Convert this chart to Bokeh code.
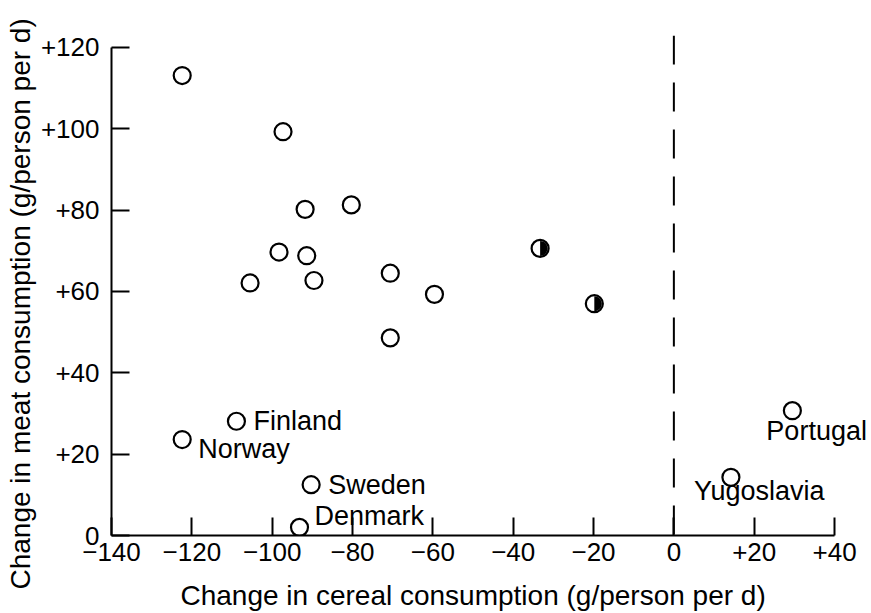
import math
from bokeh.plotting import figure
from bokeh.models import Range1d, FixedTicker, Span, ColumnDataSource, LabelSet, Title
from bokeh.embed import file_html
from bokeh.resources import INLINE
from bokeh.core.properties import value

# ---- data ----
# unlabelled countries (open circles)
cereal_change = [-122.4, -97.3, -91.8, -80.3, -98.3, -91.4, -105.5, -89.6, -70.6, -59.6, -70.6]
meat_change = [113.1, 99.3, 80.2, 81.3, 69.7, 68.8, 62.1, 62.7, 64.5, 59.3, 48.6]

# half-filled circles
half_cereal_change = [-33.3, -19.8]
half_meat_change = [70.6, 57.0]

# labelled countries
named_countries = ["Finland", "Norway", "Sweden", "Denmark", "Portugal", "Yugoslavia"]
named_cereal_change = [-108.9, -122.4, -90.3, -93.2, 29.5, 14.2]
named_meat_change = [28.1, 23.6, 12.5, 2.0, 30.7, 14.3]

x_ticks = [-140, -120, -100, -80, -60, -40, -20, 0, 20, 40]
x_tick_labels = ["\u2212140", "\u2212120", "\u2212100", "\u221280", "\u221260",
                 "\u221240", "\u221220", "0", "+20", "+40"]
y_ticks = [0, 20, 40, 60, 80, 100, 120]
y_tick_labels = ["0", "+20", "+40", "+60", "+80", "+100", "+120"]

x_title = "Change in cereal consumption (g/person per d)"
y_title = "Change in meat consumption (g/person per d)"

# label placement (screen px offsets, style only; dy positive = up)
label_dx = [17, 16, 17, 15, -26, -37]
label_dy = [0, -9, 0, 11, -20, -14]

FONT = "Liberation Sans"

p = figure(width=871, height=613,
           x_range=Range1d(-140, 49.2), y_range=Range1d(0, 122.95),
           output_backend="svg", toolbar_location=None,
           min_border_left=110, min_border_right=0,
           min_border_top=35, min_border_bottom=78)
p.outline_line_color = None
p.grid.visible = False
p.background_fill_color = "white"
p.border_fill_color = "white"

p.xaxis.ticker = FixedTicker(ticks=x_ticks)
p.yaxis.ticker = FixedTicker(ticks=y_ticks)
p.xaxis.major_label_overrides = dict(zip(x_ticks, x_tick_labels))
p.yaxis.major_label_overrides = dict(zip(y_ticks, y_tick_labels))
p.xaxis.bounds = (x_ticks[0], x_ticks[-1])
p.yaxis.bounds = (y_ticks[0], y_ticks[-1])

for ax in (p.xaxis, p.yaxis):
    ax.axis_line_color = "black"
    ax.axis_line_width = 2
    ax.major_tick_line_color = "black"
    ax.major_tick_line_width = 2
    ax.major_tick_in = 18
    ax.major_tick_out = 0
    ax.minor_tick_line_color = None
    ax.major_label_text_font = FONT
    ax.major_label_text_font_size = "26px"
    ax.major_label_text_color = "black"

p.xaxis.major_label_standoff = 7
p.yaxis.major_label_standoff = 12
# tiny blank axis label: only adds a little space so the title below sits lower
p.xaxis.axis_label = " "
p.xaxis.axis_label_text_font_size = "1px"
p.xaxis.axis_label_standoff = 8

# axis titles as side-panel titles (placed beyond the axes)
p.add_layout(Title(text=x_title, align="left", offset=69, standoff=4,
                   text_font=FONT, text_font_size="28px", text_font_style="normal",
                   text_color="black"), "below")
p.add_layout(Title(text=y_title, align="left", offset=-54, standoff=4,
                   text_font=FONT, text_font_size="28px", text_font_style="normal",
                   text_color="black"), "left")

# dashed line at zero cereal change
p.add_layout(Span(location=0, dimension="height", line_color="black",
                  line_width=2, line_dash="29 18"))

# open circles
p.scatter(cereal_change, meat_change, marker="circle", size=17,
          fill_color="white", line_color="black", line_width=2.2)
p.scatter(named_cereal_change, named_meat_change, marker="circle", size=17,
          fill_color="white", line_color="black", line_width=2.2)

# half-filled circles
p.wedge(x=half_cereal_change, y=half_meat_change, radius=7.5, radius_units="screen",
        start_angle=-math.pi / 2, end_angle=math.pi / 2, direction="anticlock",
        fill_color="black", line_color=None)
p.scatter(half_cereal_change, half_meat_change, marker="circle", size=17,
          fill_color=None, line_color="black", line_width=2.2)

# country labels
src = ColumnDataSource(dict(x=named_cereal_change, y=named_meat_change,
                            name=named_countries, dx=label_dx, dy=label_dy))
p.add_layout(LabelSet(x="x", y="y", text="name", x_offset="dx", y_offset="dy",
                      source=src, text_font=value(FONT), text_font_size="27px",
                      text_color="black", text_align="left", text_baseline="middle"))

open("out.html", "w").write(file_html(p, INLINE))
